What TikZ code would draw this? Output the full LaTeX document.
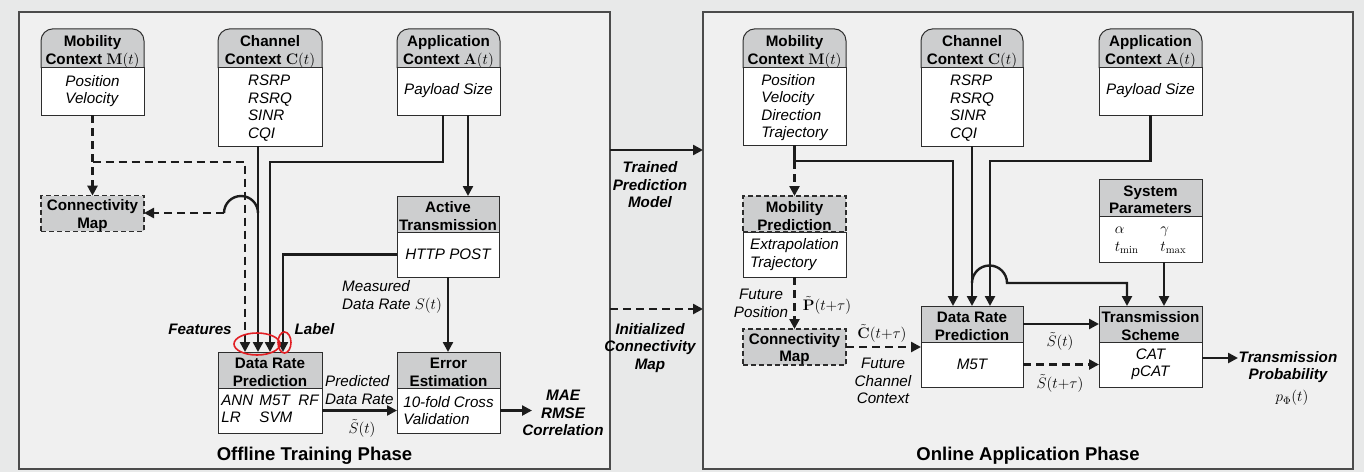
\RequirePackage{fix-cm}
\documentclass[tikz,border=0pt]{standalone}
\usepackage[no-math]{fontspec}
\setmainfont{Liberation Sans}
\usetikzlibrary{arrows.meta,calc}
\definecolor{outbg}{RGB}{232,233,233}
\definecolor{panbg}{RGB}{240,240,240}
\definecolor{panbd}{RGB}{75,75,75}
\definecolor{hdrc}{RGB}{205,206,207}
\definecolor{boxc}{RGB}{45,45,45}
\definecolor{linec}{RGB}{28,28,28}
\definecolor{redc}{RGB}{225,30,35}
\newcommand{\bfnt}{\fontsize{15.2}{17.5}\selectfont}
\newcommand{\hs}{\rule{0pt}{15pt}}
\newcommand{\hsr}{\rule{0pt}{18pt}}
\pgfdeclarelayer{back}
\pgfdeclarelayer{bg}
\pgfsetlayers{back,bg,main}
\tikzset{
  panel/.style={draw=panbd, fill=panbg, line width=1.3pt, inner sep=0pt, outer sep=0pt},
  hdr/.style={draw=boxc, fill=hdrc, line width=1pt, inner sep=0pt, outer sep=0pt, font=\bfnt\bfseries, align=center},
  rhdr/.style={draw=none, fill=none, inner sep=0pt, outer sep=0pt, font=\bfnt\bfseries, align=center},
  bodyb/.style={draw=boxc, fill=white, line width=1pt, inner sep=0pt, outer sep=0pt, font=\bfnt\itshape, align=left},
  dbox/.style={draw=boxc, fill=hdrc, line width=1.1pt, dash pattern=on 5pt off 3pt, inner sep=0pt, outer sep=0pt, font=\bfnt\bfseries, align=center},
  conn/.style={draw=linec, line width=2.4pt},
  arr/.style={conn, -{Triangle[length=10pt,width=10pt]}},
  dsh/.style={dash pattern=on 8pt off 5pt},
  lbl/.style={inner sep=0pt, font=\bfnt\itshape},
  lblb/.style={inner sep=0pt, font=\bfnt\bfseries\itshape},
  ttl/.style={inner sep=0pt, font=\fontsize{18.5}{22}\selectfont\bfseries},
  redring/.style={draw=redc, line width=1.6pt},
}
\begin{document}
\begin{tikzpicture}[x=1pt,y=-1pt,font=\bfnt]
\useasboundingbox (0,0) rectangle (1364,472);
\begin{pgfonlayer}{back}
  \fill[outbg] (0,0) rectangle (1364,472);
  \node[panel, minimum width=591pt, minimum height=457pt] (panL) at (314.5,240.5) {};
  \node[panel, minimum width=650pt, minimum height=457pt] (panR) at (1028,240.5) {};
\end{pgfonlayer}

% ---------------- left panel boxes
\node[rhdr, minimum width=103pt, minimum height=37pt] (mobLh) at (92.5,48.5) {\hsr Mobility\\Context $\mathbf{M}(t)$};
\node[bodyb, minimum width=103pt, minimum height=48pt] (mobLb) at (92.5,91) {Position\\Velocity};
\node[rhdr, minimum width=104pt, minimum height=37pt] (chanLh) at (270,48.5) {\hsr Channel\\Context $\mathbf{C}(t)$};
\node[bodyb, minimum width=104pt, minimum height=79pt] (chanLb) at (270,106.5) {\rule{0pt}{14pt}RSRP\\RSRQ\\SINR\\CQI};
\node[rhdr, minimum width=103pt, minimum height=37pt] (appLh) at (448.5,48.5) {\hsr Application\\Context $\mathbf{A}(t)$};
\node[bodyb, minimum width=103pt, minimum height=48pt, align=center] (appLb) at (448.5,91) {Payload Size};
\node[dbox, minimum width=103pt, minimum height=35pt] (connL) at (92.5,213.5) {\hs Connectivity\\Map};
\node[hdr, minimum width=102pt, minimum height=36pt] (atLh) at (448,214) {\hs Active\\Transmission};
\node[bodyb, minimum width=102pt, minimum height=45pt, align=center] (atLb) at (448,254.5) {HTTP POST};
\node[hdr, minimum width=104pt, minimum height=36pt] (drpLh) at (270,370) {\hs Data Rate\\Prediction};
\node[bodyb, minimum width=104pt, minimum height=45pt] (drpLb) at (270,410.5) {\begin{tabular}{@{}l@{\hspace{6pt}}l@{\hspace{6pt}}l@{}}ANN & M5T & RF\\ LR & SVM & \end{tabular}};
\node[hdr, minimum width=103pt, minimum height=36pt] (eeLh) at (448.5,370) {\hs Error\\Estimation};
\node[bodyb, minimum width=103pt, minimum height=45pt] (eeLb) at (448.5,410.5) {10-fold Cross\\Validation};

% ---------------- right panel boxes
\node[rhdr, minimum width=103pt, minimum height=37pt] (mobRh) at (794.5,48.5) {\hsr Mobility\\Context $\mathbf{M}(t)$};
\node[bodyb, minimum width=103pt, minimum height=78pt] (mobRb) at (794.5,106) {\rule{0pt}{14pt}Position\\Velocity\\Direction\\Trajectory};
\node[rhdr, minimum width=102pt, minimum height=37pt] (chanRh) at (972,48.5) {\hsr Channel\\Context $\mathbf{C}(t)$};
\node[bodyb, minimum width=102pt, minimum height=79pt] (chanRb) at (972,106.5) {\rule{0pt}{14pt}RSRP\\RSRQ\\SINR\\CQI};
\node[rhdr, minimum width=103pt, minimum height=37pt] (appRh) at (1150.5,48.5) {\hsr Application\\Context $\mathbf{A}(t)$};
\node[bodyb, minimum width=103pt, minimum height=48pt, align=center] (appRb) at (1150.5,91) {Payload Size};
\node[dbox, minimum width=103pt, minimum height=36pt] (mpRh) at (794.5,214) {\hs Mobility\\Prediction};
\node[bodyb, minimum width=103pt, minimum height=45pt] (mpRb) at (794.5,254.5) {Extrapolation\\Trajectory};
\node[dbox, minimum width=103pt, minimum height=36pt] (connR) at (794.5,347) {\hs Connectivity\\Map};
\node[hdr, minimum width=103pt, minimum height=37pt] (spRh) at (1150.5,197.5) {\hs System\\Parameters};
\node[bodyb, minimum width=103pt, minimum height=46pt] (spRb) at (1150.5,239) {\begin{tabular}{@{}l@{\hspace{22pt}}l@{}}$\alpha$ & $\gamma$\\ $t_{\min}$ & $t_{\max}$\end{tabular}};
\node[hdr, minimum width=102pt, minimum height=36pt] (drpRh) at (972,324) {\hs Data Rate\\Prediction};
\node[bodyb, minimum width=102pt, minimum height=45pt, align=center] (drpRb) at (972,364.5) {M5T};
\node[hdr, minimum width=103pt, minimum height=36pt] (tsRh) at (1150.5,324) {\hs Transmission\\Scheme};
\node[bodyb, minimum width=103pt, minimum height=45pt, align=center] (tsRb) at (1150.5,364.5) {CAT\\pCAT};

% rounded headers
\begin{pgfonlayer}{bg}
\foreach \n in {mobLh,chanLh,appLh,mobRh,chanRh,appRh}
  \path[draw=boxc, fill=hdrc, line width=1pt, rounded corners=12pt] (\n.south west) -- (\n.north west) -- (\n.north east) -- (\n.south east);
\end{pgfonlayer}

% ---------------- left connectors
\coordinate (jL) at (92.5,162);
\draw[arr,dsh] (mobLb.south) -- (connL.north);
\draw[arr,dsh] (jL) -| ([xshift=-25pt]drpLh.north);
\draw[arr] ([xshift=-12pt]chanLb.south) -- ([xshift=-12pt]drpLh.north);
\coordinate (hL) at (258,213);
\draw[conn] (hL) arc[start angle=0,end angle=-180,radius=17] coordinate (hLe);
\draw[arr,dsh] (hLe) -- (hLe -| connL.east);
\coordinate (jA) at (443,162);
\draw[arr] ([xshift=-5.5pt]appLb.south) -- (jA) -| (drpLh.north);
\draw[arr] ([xshift=19.5pt]appLb.south) -- ([xshift=19.5pt]appLb.south |- atLh.north);
\draw[arr] (atLb.west) -| ([xshift=13pt]drpLh.north);
\draw[arr] (atLb.south) -- (atLb.south |- eeLh.north);
\draw[arr] (drpLb.east) -- (eeLb.west);
\draw[arr] (eeLb.east) -- ++(32,0) coordinate (maeA);

% labels left
\node[lbl, anchor=west, align=left] (measL) at (342,297) {Measured\\Data Rate $S(t)$};
\node[lbl, anchor=west, align=left] (predL) at (325,390) {Predicted\\Data Rate};
\node[lbl] (stL) at (362,428) {$\tilde{S}(t)$};
\node[lblb] (featL) at (200,329) {Features};
\node[lblb] (labL) at (314.5,329) {Label};
\node[lblb, align=center] (mae) at (563,413) {MAE\\RMSE\\Correlation};
\draw[redring] (257,344) ellipse [x radius=23, y radius=11];
\draw[redring] (284.5,342.5) ellipse [x radius=6.5, y radius=10.5];
\node[ttl] (ttlL) at (314.5,456) {Offline Training Phase};

% ---------------- between panels
\coordinate (tpmS) at (610,150);
\draw[arr] (tpmS) -- (tpmS -| panR.west);
\node[lblb, align=center] (tpmL) at (650,185) {Trained\\Prediction\\Model};
\coordinate (icmS) at (610,309);
\draw[arr,dsh] (icmS) -- (icmS -| panR.west);
\node[lblb, align=center] (icmL) at (650,348) {Initialized\\Connectivity\\Map};

% ---------------- right connectors
\coordinate (jM) at (794.5,161);
\draw[conn] (mobRb.south) -- (jM);
\draw[arr,dsh] (jM) -- (mpRh.north);
\draw[arr] (jM) -| ([xshift=-19pt]drpRh.north);
\draw[arr] (chanRb.south) -- (drpRh.north);
\coordinate (jA2) at (1150.5,161);
\draw[arr] (appRb.south) -- (jA2) -| ([xshift=18pt]drpRh.north);
\coordinate (hR) at (972,283);
\draw[arr] (hR) arc[start angle=180,end angle=360,radius=17.5] -| ([xshift=-23.5pt]tsRh.north);
\draw[arr] ([xshift=13.5pt]spRb.south) -- ([xshift=13.5pt]tsRh.north);
\draw[arr,dsh] (mpRb.south) -- (connR.north);
\draw[arr,dsh] (connR.east) -- (connR.east -| drpRb.west);
\draw[arr] (drpRh.east) -- (tsRh.west);
\draw[arr,dsh] (drpRb.east) -- (tsRb.west);
\draw[arr] ([yshift=6.5pt]tsRb.east) -- ++(36,0) coordinate (tpA);

% labels right
\node[lbl, align=center] (fpL) at (761,303.5) {Future\\Position};
\node[lbl] (ptL) at (827,305) {$\tilde{\mathbf{P}}(t{+}\tau)$};
\node[lbl] (ctL) at (882,333) {$\tilde{\mathbf{C}}(t{+}\tau)$};
\node[lbl, align=center] (fccL) at (883,381) {Future\\Channel\\Context};
\node[lbl] (s1L) at (1060,341) {$\tilde{S}(t)$};
\node[lbl] (s2L) at (1060,383) {$\tilde{S}(t{+}\tau)$};
\node[lblb, align=center] (tprL) at (1288,367) {Transmission\\Probability};
\node[lbl] (pphi) at (1292,398) {$p_\Phi(t)$};
\node[ttl] (ttlR) at (1028,456) {Online Application Phase};
\end{tikzpicture}
\end{document}
